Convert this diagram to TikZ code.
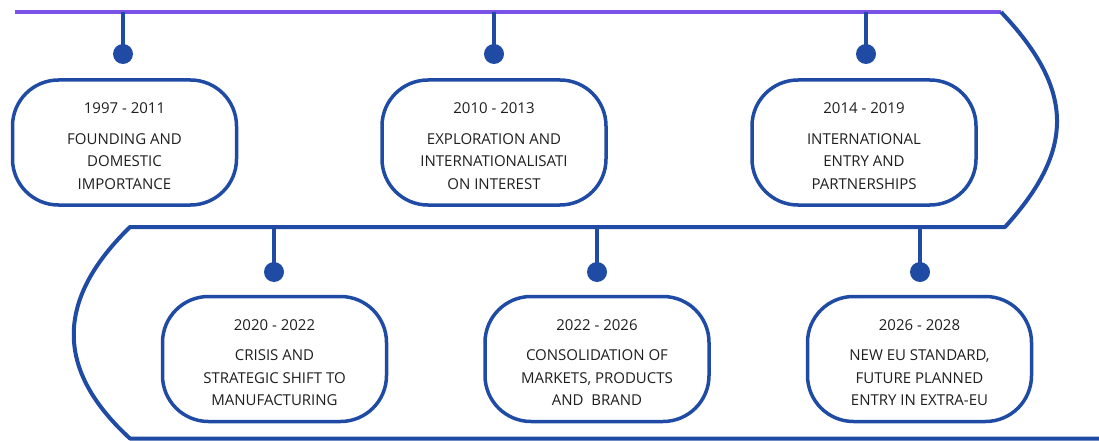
\documentclass[tikz,border=0pt]{standalone}
\usepackage{fontspec}
\setmainfont{Open Sans}
\definecolor{lineblue}{RGB}{31,75,165}
\definecolor{linepurple}{RGB}{122,82,232}
\definecolor{textgray}{RGB}{30,30,30}
\newcommand{\yearline}[1]{\rule{0pt}{18pt}#1\\[8pt]}
\begin{document}
\begin{tikzpicture}[x=1pt,y=-1pt,
  phase/.style={draw=lineblue, line width=3.5pt, rounded corners=46pt,
    minimum width=224pt, minimum height=125pt, align=center,
    text=textgray, font=\fontsize{15}{22.5}\selectfont, inner sep=0pt},
  pin/.style={circle, fill=lineblue, minimum size=20pt, inner sep=0pt},
  stem/.style={draw=lineblue, line width=4pt},
  track/.style={draw=lineblue, line width=4pt}]
\useasboundingbox (0,0) rectangle (1099,441);

% timeline track
\coordinate (start) at (15,12);
\coordinate (turnA) at (1001,12);
\coordinate (turnB) at (1005,227);
\coordinate (turnC) at (130,227);
\coordinate (turnD) at (130,438.5);
\coordinate (finish) at (1099,438.5);
\draw[draw=linepurple, line width=4pt] (start) -- (turnA);
\draw[track, line join=round] (turnA) .. controls (1075,90) and (1075,150) .. (turnB)
  -- (turnC) .. controls (55,300) and (55,370) .. (turnD) -- (finish);

% upper row
\foreach \n/\x in {1/123,2/494,3/866} {
  \coordinate (t\n) at (\x,12);
  \node[pin] (d\n) at (\x,54) {};
  \draw[stem] (t\n) -- (d\n.center);
}
% lower row
\foreach \n/\x in {4/274,5/597,6/920} {
  \coordinate (t\n) at (\x,227);
  \node[pin] (d\n) at (\x,272) {};
  \draw[stem] (t\n) -- (d\n.center);
}

\node[phase] (p1) at (124.5,142.5) {\yearline{1997 - 2011}FOUNDING AND\\DOMESTIC\\IMPORTANCE};
\node[phase] (p2) at (494,142.5) {\yearline{2010 - 2013}EXPLORATION AND\\INTERNATIONALISATI\\ON INTEREST};
\node[phase] (p3) at (864,142.5) {\yearline{2014 - 2019}INTERNATIONAL\\ENTRY AND\\PARTNERSHIPS};
\node[phase] (p4) at (274.5,359) {\yearline{2020 - 2022}CRISIS AND\\STRATEGIC SHIFT TO\\MANUFACTURING};
\node[phase] (p5) at (597,359) {\yearline{2022 - 2026}CONSOLIDATION OF\\MARKETS, PRODUCTS\\AND\ \ BRAND};
\node[phase] (p6) at (919.5,359) {\yearline{2026 - 2028}NEW EU STANDARD,\\FUTURE PLANNED\\ENTRY IN EXTRA-EU};
\end{tikzpicture}
\end{document}
